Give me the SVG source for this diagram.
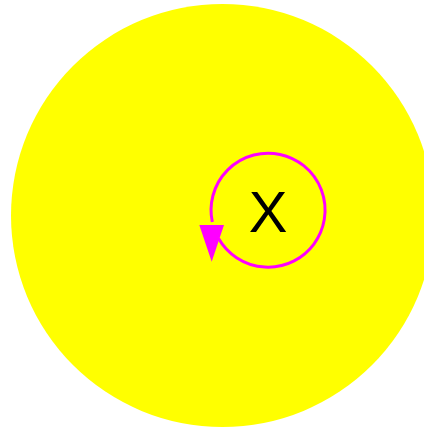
<svg xmlns="http://www.w3.org/2000/svg" width="424" height="430" viewBox="0 0 424 430">
<style>
.bg{fill:#ffff00;}
.loop{fill:none;stroke:#ff00ff;stroke-width:3;}
.head{fill:#ff00ff;}
.lbl{font-family:"Liberation Sans",Arial,sans-serif;font-size:58px;fill:#000;text-anchor:middle;}
</style>
<g id="big">
<circle class="bg" cx="222.5" cy="215.5" r="211.5"/>
</g>
<g id="x-node">
<text class="lbl" x="268" y="231.5">X</text>
</g>
<g id="connectors">
<path class="loop" d="M218.6 238.5 A57 57 0 1 0 212.3 222"/>
<polygon class="head" points="199.3,225 224,225 211.7,261.7"/>
</g>
</svg>
